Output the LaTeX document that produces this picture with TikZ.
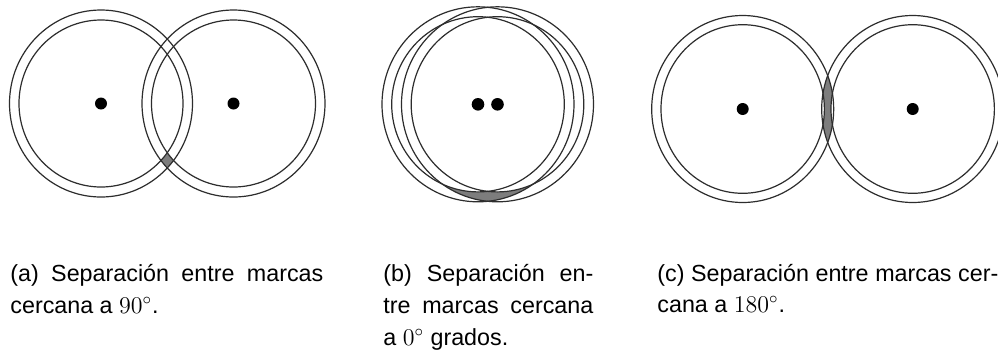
\documentclass[tikz,border=0pt]{standalone}
\usepackage[no-math]{fontspec}
\setmainfont{Liberation Sans}
\definecolor{ringcol}{RGB}{45,45,45}
\definecolor{shadecol}{RGB}{125,125,125}
\newcommand\capfont{\fontsize{11.65}{16}\selectfont}
\begin{document}
\begin{tikzpicture}[x=0.5pt,y=0.5pt,
  ringline/.style={draw=ringcol, line width=0.6pt},
  markdot/.style={fill=black},
  capline/.style={anchor=base west, inner sep=0pt, font=\capfont}]
\clip (0,0) rectangle (998,-349);
\fill[white] (0,0) rectangle (998,-349);
% ---------- panel (a)
\coordinate (a1) at (101,-103.5);
\coordinate (a2) at (233.5,-103.5);
\begin{scope}
  \clip (0,-103.5) rectangle (340,-230);
  \clip (a1) ellipse [x radius=91.5, y radius=93.5];
  \clip (a2) ellipse [x radius=91.5, y radius=93.5];
  \fill[shadecol] (0,0) rectangle (340,-230);
  \fill[white] (a1) ellipse [x radius=82, y radius=83.5];
  \fill[white] (a2) ellipse [x radius=82, y radius=83.5];
\end{scope}
\foreach \c in {a1,a2}{
  \draw[ringline] (\c) ellipse [x radius=91.5, y radius=93.5];
  \draw[ringline] (\c) ellipse [x radius=82, y radius=83.5];
  \fill[markdot] (\c) circle [radius=6];
}
% ---------- panel (b)
\coordinate (b1) at (478,-104.3);
\coordinate (b2) at (497.5,-104.3);
\begin{scope}
  \clip (340,-104.3) rectangle (650,-230);
  \clip (b1) ellipse [x radius=96, y radius=97.5];
  \clip (b2) ellipse [x radius=96, y radius=97.5];
  \fill[shadecol] (340,0) rectangle (650,-230);
  \fill[white] (b1) ellipse [x radius=86.3, y radius=87.6];
  \fill[white] (b2) ellipse [x radius=86.3, y radius=87.6];
\end{scope}
\foreach \c in {b1,b2}{
  \draw[ringline] (\c) ellipse [x radius=96, y radius=97.5];
  \draw[ringline] (\c) ellipse [x radius=86.3, y radius=87.6];
  \fill[markdot] (\c) circle [radius=6.3];
}
% ---------- panel (c)
\coordinate (c1) at (742.7,-109);
\coordinate (c2) at (912.7,-109);
\begin{scope}
  \clip (c1) ellipse [x radius=91, y radius=93.5];
  \clip (c2) ellipse [x radius=91, y radius=93.5];
  \fill[shadecol] (650,0) rectangle (998,-230);
  \fill[white] (c1) ellipse [x radius=81.7, y radius=84.3];
  \fill[white] (c2) ellipse [x radius=81.7, y radius=84.3];
\end{scope}
\foreach \c in {c1,c2}{
  \draw[ringline] (\c) ellipse [x radius=91, y radius=93.5];
  \draw[ringline] (\c) ellipse [x radius=81.7, y radius=84.3];
  \fill[markdot] (\c) circle [radius=6];
}
% ---------- captions
\node[capline] (capa1) at (10,-281) {\makebox[156.5pt][s]{(a) Separación entre marcas}};
\node[capline] (capa2) at (10,-313) {cercana a $90^\circ$.};
\node[capline] (capb1) at (383,-281) {\makebox[105pt][s]{(b) Separación en-}};
\node[capline] (capb2) at (383,-313) {\makebox[105pt][s]{tre marcas cercana}};
\node[capline] (capb3) at (383,-345) {a $0^\circ$ grados.};
\node[capline] (capc1) at (657,-281) {\makebox[170.5pt][s]{(c) Separación entre marcas cer-}};
\node[capline] (capc2) at (657,-312) {cana a $180^\circ$.};
\end{tikzpicture}
\end{document}
